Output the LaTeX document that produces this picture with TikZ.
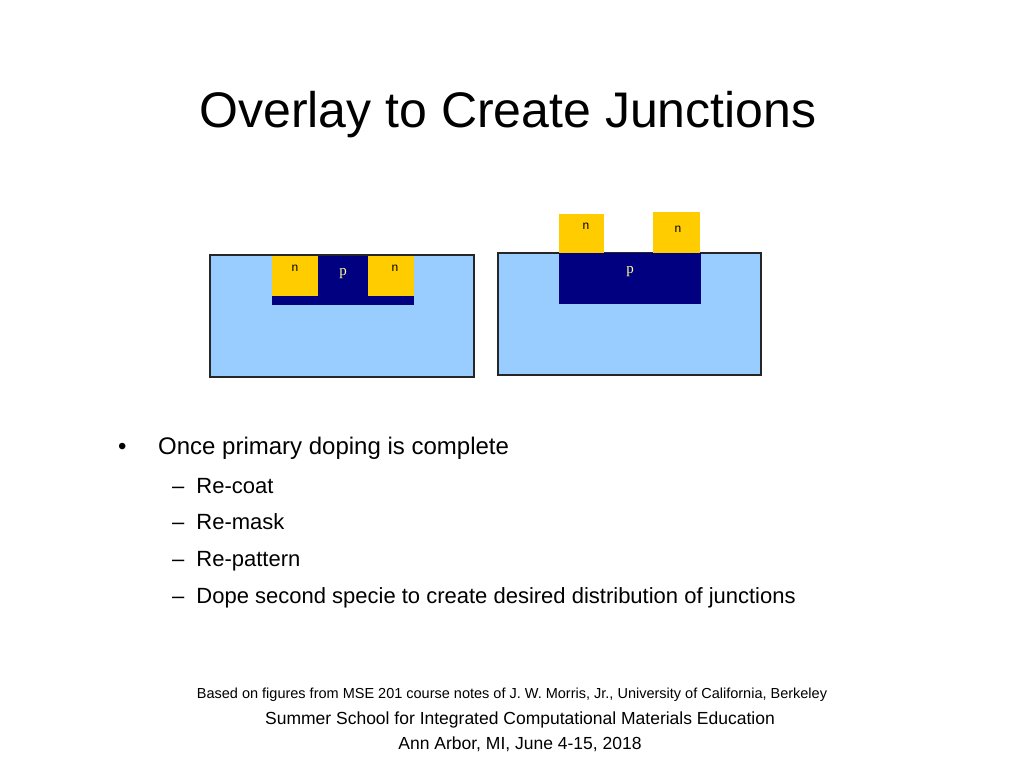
\documentclass[tikz,border=0pt]{standalone}
\usepackage{fontspec}
\setmainfont{Liberation Sans}
\newfontfamily\serifp{Liberation Serif}
\begin{document}
\begin{tikzpicture}[x=1pt,y=-1pt,
  sub/.style={fill={rgb,255:red,153;green,204;blue,255},draw=black!85,line width=1.5pt},
  preg/.style={fill={rgb,255:red,0;green,0;blue,128}},
  nreg/.style={fill={rgb,255:red,255;green,204;blue,0}},
  nlab/.style={font=\fontsize{12}{14}\selectfont,text=black},
  plab/.style={font=\serifp\fontsize{15}{17}\selectfont,text={rgb,255:red,255;green,255;blue,153}},
  txt/.style={font=\fontsize{24}{28}\selectfont,anchor=base west,inner sep=0pt}]
\useasboundingbox (0,0) rectangle (1024,768);
\node[anchor=base,inner sep=0pt,font=\fontsize{50}{56}\selectfont] (title) at (508,127) {Overlay to Create Junctions};
% left
\draw[sub] (210,255) rectangle (474,377);
\fill[preg] (272,256) rectangle (414,305);
\fill[nreg] (272,256) rectangle (318,296);
\fill[nreg] (368,256) rectangle (414,296);
\node[nlab] (n1) at (295,268) {n};
\node[nlab] (n2) at (395,268) {n};
\node[plab] (p1) at (343,274) {p};
% right
\draw[sub] (498,253) rectangle (761,375);
\fill[preg] (559,253) rectangle (701,304);
\fill[nreg] (559,214) rectangle (604,253);
\fill[nreg] (653,212) rectangle (700,253);
\node[nlab] (n3) at (586,226) {n};
\node[nlab] (n4) at (678,229) {n};
\node[plab] (p2) at (630,272) {p};
% bullets
\node[txt] (b0) at (118,454) {•};
\node[txt] (b1) at (158,454) {Once primary doping is complete};
\node[txt,font=\fontsize{22}{26}\selectfont] (s1) at (172,493) {–\hspace{12pt}Re-coat};
\node[txt,font=\fontsize{22}{26}\selectfont] (s2) at (172,529) {–\hspace{12pt}Re-mask};
\node[txt,font=\fontsize{22}{26}\selectfont] (s3) at (172,566) {–\hspace{12pt}Re-pattern};
\node[txt,font=\fontsize{22}{26}\selectfont] (s4) at (172,603) {–\hspace{12pt}Dope second specie to create desired distribution of junctions};
% footer
\node[anchor=base,inner sep=0pt,font=\fontsize{14.5}{17}\selectfont] (f1) at (512,698) {Based on figures from MSE 201 course notes of J. W. Morris, Jr., University of California, Berkeley};
\node[anchor=base,inner sep=0pt,font=\fontsize{17.5}{20}\selectfont] (f2) at (520,724) {Summer School for Integrated Computational Materials Education};
\node[anchor=base,inner sep=0pt,font=\fontsize{17.5}{20}\selectfont] (f3) at (520,749) {Ann Arbor, MI, June 4-15, 2018};
\end{tikzpicture}
\end{document}
